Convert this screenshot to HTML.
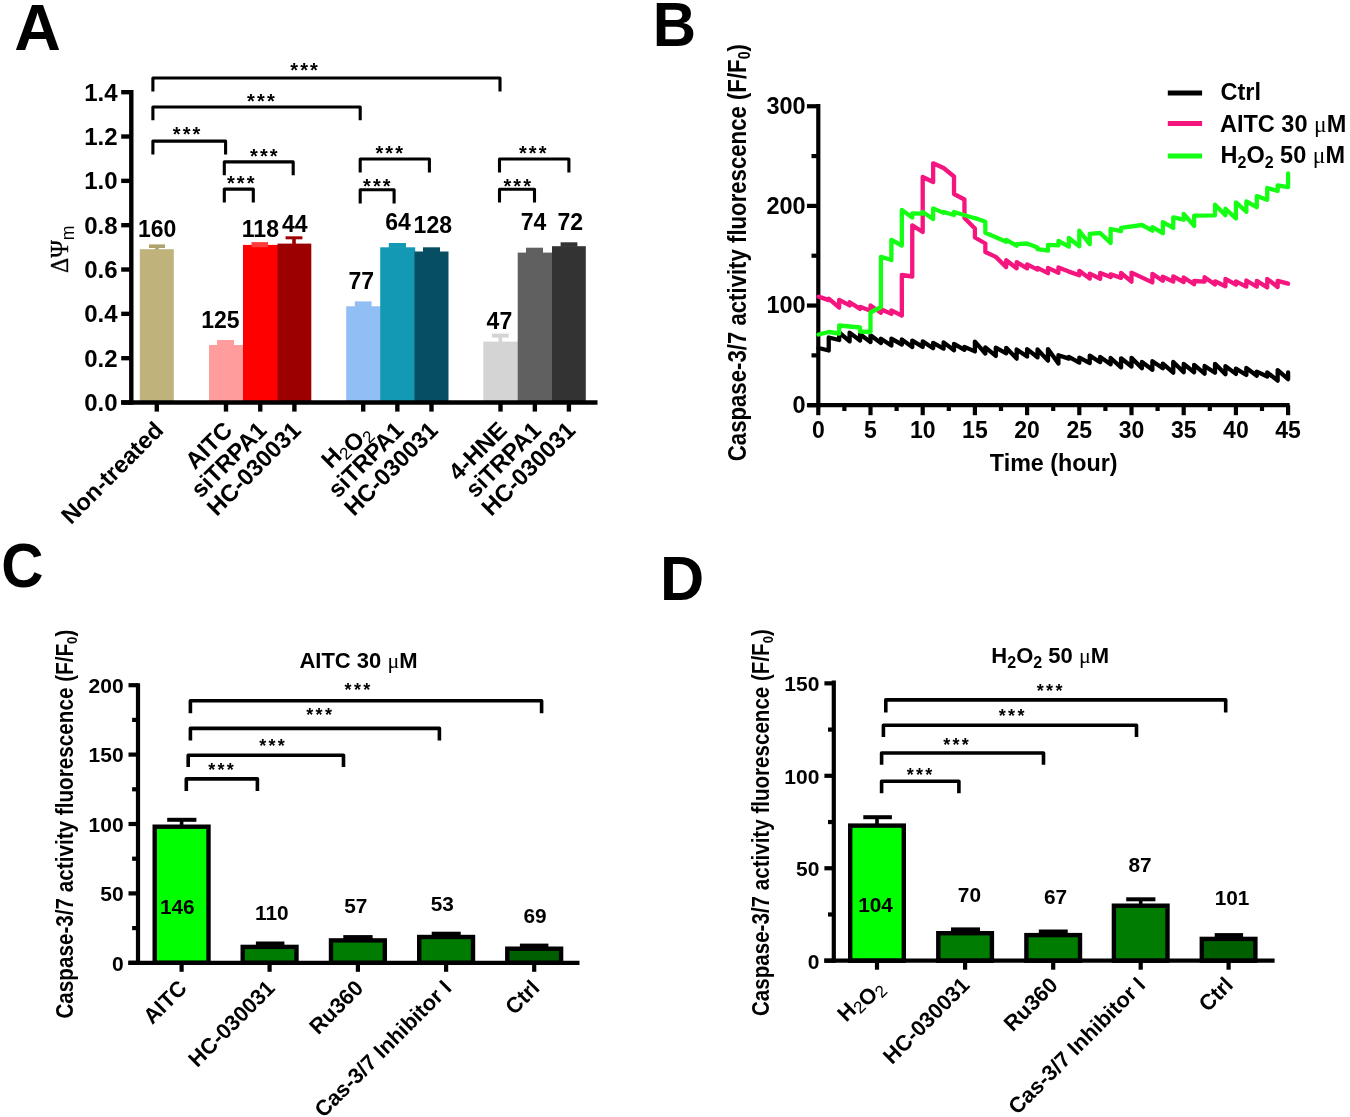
<!DOCTYPE html>
<html><head><meta charset="utf-8"><title>Figure</title>
<style>html,body{margin:0;padding:0;background:#fff;} svg{display:block;will-change:transform;}</style></head>
<body><svg width="1350" height="1117" viewBox="0 0 1350 1117">
<rect x="0" y="0" width="1350" height="1117" fill="#fff"/>
<text x="14.30" y="49.50" font-family='"Liberation Sans", sans-serif' font-size="64.5" font-weight="bold" text-anchor="start">A</text>
<text x="652.80" y="45.90" font-family='"Liberation Sans", sans-serif' font-size="62.5" font-weight="bold" text-anchor="start" transform="translate(652.80 45.90) scale(0.96 1) translate(-652.80 -45.90)">B</text>
<text x="1.20" y="586.60" font-family='"Liberation Sans", sans-serif' font-size="62.5" font-weight="bold" text-anchor="start" transform="translate(1.20 586.60) scale(0.935 1) translate(-1.20 -586.60)">C</text>
<text x="660.00" y="600.40" font-family='"Liberation Sans", sans-serif' font-size="62.5" font-weight="bold" text-anchor="start" transform="translate(660.00 600.40) scale(0.98 1) translate(-660.00 -600.40)">D</text>
<rect x="139.80" y="249.20" width="34.00" height="153.30" fill="#BFB27B"/>
<rect x="155.20" y="247.50" width="3.60" height="2.20" fill="#AEA36F"/>
<rect x="149.00" y="244.40" width="16.00" height="3.60" fill="#AEA36F"/>
<rect x="209.00" y="345.00" width="34.70" height="57.50" fill="#FF9C9C"/>
<rect x="217.00" y="340.00" width="17.00" height="5.60" fill="#FF9C9C"/>
<rect x="243.00" y="244.90" width="35.20" height="157.60" fill="#FF0000"/>
<rect x="251.50" y="242.10" width="16.50" height="5.10" fill="#FF3C3C"/>
<rect x="277.50" y="243.60" width="33.80" height="158.90" fill="#9C0000"/>
<rect x="292.20" y="238.80" width="3.60" height="5.30" fill="#9C0000"/>
<rect x="285.60" y="236.30" width="16.80" height="3.00" fill="#9C0000"/>
<rect x="346.20" y="306.30" width="34.70" height="96.20" fill="#92BEF6"/>
<rect x="354.80" y="301.40" width="16.80" height="5.50" fill="#92BEF6"/>
<rect x="380.20" y="247.30" width="35.00" height="155.20" fill="#1399B4"/>
<rect x="388.80" y="243.00" width="17.20" height="4.90" fill="#1399B4"/>
<rect x="414.50" y="251.50" width="34.00" height="151.00" fill="#064F63"/>
<rect x="423.00" y="247.30" width="17.00" height="4.80" fill="#064F63"/>
<rect x="483.30" y="341.60" width="35.10" height="60.90" fill="#D4D4D4"/>
<rect x="498.55" y="337.10" width="3.60" height="5.00" fill="#D4D4D4"/>
<rect x="492.00" y="333.60" width="16.70" height="4.00" fill="#D4D4D4"/>
<rect x="517.70" y="252.60" width="35.00" height="149.90" fill="#606060"/>
<rect x="526.00" y="247.70" width="17.00" height="5.50" fill="#606060"/>
<rect x="552.00" y="246.20" width="33.80" height="156.30" fill="#333333"/>
<rect x="560.60" y="242.30" width="16.80" height="4.50" fill="#333333"/>
<line x1="131.30" y1="90.00" x2="131.30" y2="404.70" stroke="#000" stroke-width="4.4" stroke-linecap="butt"/>
<line x1="121.20" y1="402.50" x2="597.50" y2="402.50" stroke="#000" stroke-width="4.4" stroke-linecap="butt"/>
<line x1="121.20" y1="402.50" x2="131.30" y2="402.50" stroke="#000" stroke-width="4.4" stroke-linecap="butt"/>
<text x="117.60" y="410.90" font-family='"Liberation Sans", sans-serif' font-size="24" font-weight="bold" text-anchor="end">0.0</text>
<line x1="121.20" y1="358.17" x2="131.30" y2="358.17" stroke="#000" stroke-width="4.4" stroke-linecap="butt"/>
<text x="117.60" y="366.57" font-family='"Liberation Sans", sans-serif' font-size="24" font-weight="bold" text-anchor="end">0.2</text>
<line x1="121.20" y1="313.84" x2="131.30" y2="313.84" stroke="#000" stroke-width="4.4" stroke-linecap="butt"/>
<text x="117.60" y="322.24" font-family='"Liberation Sans", sans-serif' font-size="24" font-weight="bold" text-anchor="end">0.4</text>
<line x1="121.20" y1="269.51" x2="131.30" y2="269.51" stroke="#000" stroke-width="4.4" stroke-linecap="butt"/>
<text x="117.60" y="277.91" font-family='"Liberation Sans", sans-serif' font-size="24" font-weight="bold" text-anchor="end">0.6</text>
<line x1="121.20" y1="225.18" x2="131.30" y2="225.18" stroke="#000" stroke-width="4.4" stroke-linecap="butt"/>
<text x="117.60" y="233.58" font-family='"Liberation Sans", sans-serif' font-size="24" font-weight="bold" text-anchor="end">0.8</text>
<line x1="121.20" y1="180.85" x2="131.30" y2="180.85" stroke="#000" stroke-width="4.4" stroke-linecap="butt"/>
<text x="117.60" y="189.25" font-family='"Liberation Sans", sans-serif' font-size="24" font-weight="bold" text-anchor="end">1.0</text>
<line x1="121.20" y1="136.52" x2="131.30" y2="136.52" stroke="#000" stroke-width="4.4" stroke-linecap="butt"/>
<text x="117.60" y="144.92" font-family='"Liberation Sans", sans-serif' font-size="24" font-weight="bold" text-anchor="end">1.2</text>
<line x1="121.20" y1="92.19" x2="131.30" y2="92.19" stroke="#000" stroke-width="4.4" stroke-linecap="butt"/>
<text x="117.60" y="100.59" font-family='"Liberation Sans", sans-serif' font-size="24" font-weight="bold" text-anchor="end">1.4</text>
<line x1="156.80" y1="402.50" x2="156.80" y2="411.60" stroke="#000" stroke-width="4.4" stroke-linecap="butt"/>
<line x1="226.00" y1="402.50" x2="226.00" y2="411.60" stroke="#000" stroke-width="4.4" stroke-linecap="butt"/>
<line x1="260.25" y1="402.50" x2="260.25" y2="411.60" stroke="#000" stroke-width="4.4" stroke-linecap="butt"/>
<line x1="294.40" y1="402.50" x2="294.40" y2="411.60" stroke="#000" stroke-width="4.4" stroke-linecap="butt"/>
<line x1="363.20" y1="402.50" x2="363.20" y2="411.60" stroke="#000" stroke-width="4.4" stroke-linecap="butt"/>
<line x1="397.35" y1="402.50" x2="397.35" y2="411.60" stroke="#000" stroke-width="4.4" stroke-linecap="butt"/>
<line x1="431.50" y1="402.50" x2="431.50" y2="411.60" stroke="#000" stroke-width="4.4" stroke-linecap="butt"/>
<line x1="500.50" y1="402.50" x2="500.50" y2="411.60" stroke="#000" stroke-width="4.4" stroke-linecap="butt"/>
<line x1="534.85" y1="402.50" x2="534.85" y2="411.60" stroke="#000" stroke-width="4.4" stroke-linecap="butt"/>
<line x1="568.90" y1="402.50" x2="568.90" y2="411.60" stroke="#000" stroke-width="4.4" stroke-linecap="butt"/>
<text x="157.20" y="237.00" font-family='"Liberation Sans", sans-serif' font-size="23" font-weight="bold" text-anchor="middle">160</text>
<text x="220.40" y="328.00" font-family='"Liberation Sans", sans-serif' font-size="23" font-weight="bold" text-anchor="middle">125</text>
<text x="260.40" y="237.00" font-family='"Liberation Sans", sans-serif' font-size="23" font-weight="bold" text-anchor="middle">118</text>
<text x="294.70" y="232.00" font-family='"Liberation Sans", sans-serif' font-size="23" font-weight="bold" text-anchor="middle">44</text>
<text x="361.30" y="288.50" font-family='"Liberation Sans", sans-serif' font-size="23" font-weight="bold" text-anchor="middle">77</text>
<text x="398.00" y="229.80" font-family='"Liberation Sans", sans-serif' font-size="23" font-weight="bold" text-anchor="middle">64</text>
<text x="432.80" y="232.60" font-family='"Liberation Sans", sans-serif' font-size="23" font-weight="bold" text-anchor="middle">128</text>
<text x="499.40" y="328.70" font-family='"Liberation Sans", sans-serif' font-size="23" font-weight="bold" text-anchor="middle">47</text>
<text x="533.50" y="229.80" font-family='"Liberation Sans", sans-serif' font-size="23" font-weight="bold" text-anchor="middle">74</text>
<text x="570.30" y="229.80" font-family='"Liberation Sans", sans-serif' font-size="23" font-weight="bold" text-anchor="middle">72</text>
<path d="M152.90 91.50 V78.00 H500.00 V91.50" stroke="#000" stroke-width="3.1" fill="none" stroke-linejoin="round" stroke-linecap="butt"/>
<text x="305.15" y="76.90" font-family='"Liberation Sans", sans-serif' font-size="20" font-weight="bold" text-anchor="middle" letter-spacing="2.1">***</text>
<path d="M152.90 120.30 V107.00 H360.20 V120.30" stroke="#000" stroke-width="3.1" fill="none" stroke-linejoin="round" stroke-linecap="butt"/>
<text x="261.95" y="108.00" font-family='"Liberation Sans", sans-serif' font-size="20" font-weight="bold" text-anchor="middle" letter-spacing="2.1">***</text>
<path d="M152.90 154.50 V141.10 H225.60 V154.50" stroke="#000" stroke-width="3.1" fill="none" stroke-linejoin="round" stroke-linecap="butt"/>
<text x="187.65" y="141.20" font-family='"Liberation Sans", sans-serif' font-size="20" font-weight="bold" text-anchor="middle" letter-spacing="2.1">***</text>
<path d="M224.30 175.30 V161.90 H293.20 V175.30" stroke="#000" stroke-width="3.1" fill="none" stroke-linejoin="round" stroke-linecap="butt"/>
<text x="264.85" y="162.50" font-family='"Liberation Sans", sans-serif' font-size="20" font-weight="bold" text-anchor="middle" letter-spacing="2.1">***</text>
<path d="M224.30 202.50 V189.10 H253.30 V202.50" stroke="#000" stroke-width="3.1" fill="none" stroke-linejoin="round" stroke-linecap="butt"/>
<text x="241.75" y="190.20" font-family='"Liberation Sans", sans-serif' font-size="20" font-weight="bold" text-anchor="middle" letter-spacing="2.1">***</text>
<path d="M360.20 172.50 V159.00 H429.40 V172.50" stroke="#000" stroke-width="3.1" fill="none" stroke-linejoin="round" stroke-linecap="butt"/>
<text x="390.25" y="159.90" font-family='"Liberation Sans", sans-serif' font-size="20" font-weight="bold" text-anchor="middle" letter-spacing="2.1">***</text>
<path d="M360.20 203.60 V189.80 H394.10 V203.60" stroke="#000" stroke-width="3.1" fill="none" stroke-linejoin="round" stroke-linecap="butt"/>
<text x="377.85" y="192.60" font-family='"Liberation Sans", sans-serif' font-size="20" font-weight="bold" text-anchor="middle" letter-spacing="2.1">***</text>
<path d="M499.50 172.50 V159.00 H568.90 V172.50" stroke="#000" stroke-width="3.1" fill="none" stroke-linejoin="round" stroke-linecap="butt"/>
<text x="533.75" y="159.90" font-family='"Liberation Sans", sans-serif' font-size="20" font-weight="bold" text-anchor="middle" letter-spacing="2.1">***</text>
<path d="M499.50 202.40 V189.20 H534.50 V202.40" stroke="#000" stroke-width="3.1" fill="none" stroke-linejoin="round" stroke-linecap="butt"/>
<text x="518.25" y="192.60" font-family='"Liberation Sans", sans-serif' font-size="20" font-weight="bold" text-anchor="middle" letter-spacing="2.1">***</text>
<text transform="translate(68.2 273) rotate(-90) scale(0.93 1)" font-family='"Liberation Serif", serif' font-size="25.5" stroke="#000" stroke-width="0.35">&#916;&#936;<tspan font-family='"Liberation Sans", sans-serif' font-size="19" stroke-width="0" dy="6">m</tspan></text>
<text transform="translate(164.60 431.60) rotate(-45)" font-family='"Liberation Sans", sans-serif' font-size="23.6" font-weight="bold" text-anchor="end">Non-treated</text>
<text transform="translate(233.80 431.60) rotate(-45)" font-family='"Liberation Sans", sans-serif' font-size="23.6" font-weight="bold" text-anchor="end">AITC</text>
<text transform="translate(268.05 431.60) rotate(-45)" font-family='"Liberation Sans", sans-serif' font-size="23.6" font-weight="bold" text-anchor="end">siTRPA1</text>
<text transform="translate(302.20 431.60) rotate(-45)" font-family='"Liberation Sans", sans-serif' font-size="23.6" font-weight="bold" text-anchor="end">HC-030031</text>
<text transform="translate(369.50 431.10) rotate(-45)" font-family='"Liberation Sans", sans-serif' font-size="23.6" font-weight="bold" text-anchor="end">H<tspan font-size="17" font-weight="normal" dy="4.5">2</tspan><tspan dy="-4.5"></tspan>O<tspan font-size="17" font-weight="normal" dy="4.5">2</tspan><tspan dy="-4.5"></tspan></text>
<text transform="translate(405.15 431.60) rotate(-45)" font-family='"Liberation Sans", sans-serif' font-size="23.6" font-weight="bold" text-anchor="end">siTRPA1</text>
<text transform="translate(439.30 431.60) rotate(-45)" font-family='"Liberation Sans", sans-serif' font-size="23.6" font-weight="bold" text-anchor="end">HC-030031</text>
<text transform="translate(508.30 431.60) rotate(-45)" font-family='"Liberation Sans", sans-serif' font-size="23.6" font-weight="bold" text-anchor="end">4-HNE</text>
<text transform="translate(542.65 431.60) rotate(-45)" font-family='"Liberation Sans", sans-serif' font-size="23.6" font-weight="bold" text-anchor="end">siTRPA1</text>
<text transform="translate(576.70 431.60) rotate(-45)" font-family='"Liberation Sans", sans-serif' font-size="23.6" font-weight="bold" text-anchor="end">HC-030031</text>
<line x1="818.30" y1="104.00" x2="818.30" y2="407.30" stroke="#000" stroke-width="4.2" stroke-linecap="butt"/>
<line x1="807.80" y1="405.20" x2="1289.60" y2="405.20" stroke="#000" stroke-width="4.2" stroke-linecap="butt"/>
<line x1="806.90" y1="405.20" x2="818.30" y2="405.20" stroke="#000" stroke-width="4.2" stroke-linecap="butt"/>
<text x="805.60" y="412.80" font-family='"Liberation Sans", sans-serif' font-size="23.5" font-weight="bold" text-anchor="end">0</text>
<line x1="806.90" y1="305.55" x2="818.30" y2="305.55" stroke="#000" stroke-width="4.2" stroke-linecap="butt"/>
<text x="805.60" y="313.15" font-family='"Liberation Sans", sans-serif' font-size="23.5" font-weight="bold" text-anchor="end">100</text>
<line x1="806.90" y1="205.90" x2="818.30" y2="205.90" stroke="#000" stroke-width="4.2" stroke-linecap="butt"/>
<text x="805.60" y="213.50" font-family='"Liberation Sans", sans-serif' font-size="23.5" font-weight="bold" text-anchor="end">200</text>
<line x1="806.90" y1="106.25" x2="818.30" y2="106.25" stroke="#000" stroke-width="4.2" stroke-linecap="butt"/>
<text x="805.60" y="113.85" font-family='"Liberation Sans", sans-serif' font-size="23.5" font-weight="bold" text-anchor="end">300</text>
<line x1="811.50" y1="355.38" x2="818.30" y2="355.38" stroke="#000" stroke-width="4.2" stroke-linecap="butt"/>
<line x1="811.50" y1="255.72" x2="818.30" y2="255.72" stroke="#000" stroke-width="4.2" stroke-linecap="butt"/>
<line x1="811.50" y1="156.07" x2="818.30" y2="156.07" stroke="#000" stroke-width="4.2" stroke-linecap="butt"/>
<line x1="818.30" y1="405.20" x2="818.30" y2="415.20" stroke="#000" stroke-width="4.2" stroke-linecap="butt"/>
<text x="818.30" y="437.50" font-family='"Liberation Sans", sans-serif' font-size="23" font-weight="bold" text-anchor="middle">0</text>
<line x1="870.50" y1="405.20" x2="870.50" y2="415.20" stroke="#000" stroke-width="4.2" stroke-linecap="butt"/>
<text x="870.50" y="437.50" font-family='"Liberation Sans", sans-serif' font-size="23" font-weight="bold" text-anchor="middle">5</text>
<line x1="922.70" y1="405.20" x2="922.70" y2="415.20" stroke="#000" stroke-width="4.2" stroke-linecap="butt"/>
<text x="922.70" y="437.50" font-family='"Liberation Sans", sans-serif' font-size="23" font-weight="bold" text-anchor="middle">10</text>
<line x1="974.90" y1="405.20" x2="974.90" y2="415.20" stroke="#000" stroke-width="4.2" stroke-linecap="butt"/>
<text x="974.90" y="437.50" font-family='"Liberation Sans", sans-serif' font-size="23" font-weight="bold" text-anchor="middle">15</text>
<line x1="1027.10" y1="405.20" x2="1027.10" y2="415.20" stroke="#000" stroke-width="4.2" stroke-linecap="butt"/>
<text x="1027.10" y="437.50" font-family='"Liberation Sans", sans-serif' font-size="23" font-weight="bold" text-anchor="middle">20</text>
<line x1="1079.30" y1="405.20" x2="1079.30" y2="415.20" stroke="#000" stroke-width="4.2" stroke-linecap="butt"/>
<text x="1079.30" y="437.50" font-family='"Liberation Sans", sans-serif' font-size="23" font-weight="bold" text-anchor="middle">25</text>
<line x1="1131.50" y1="405.20" x2="1131.50" y2="415.20" stroke="#000" stroke-width="4.2" stroke-linecap="butt"/>
<text x="1131.50" y="437.50" font-family='"Liberation Sans", sans-serif' font-size="23" font-weight="bold" text-anchor="middle">30</text>
<line x1="1183.70" y1="405.20" x2="1183.70" y2="415.20" stroke="#000" stroke-width="4.2" stroke-linecap="butt"/>
<text x="1183.70" y="437.50" font-family='"Liberation Sans", sans-serif' font-size="23" font-weight="bold" text-anchor="middle">35</text>
<line x1="1235.90" y1="405.20" x2="1235.90" y2="415.20" stroke="#000" stroke-width="4.2" stroke-linecap="butt"/>
<text x="1235.90" y="437.50" font-family='"Liberation Sans", sans-serif' font-size="23" font-weight="bold" text-anchor="middle">40</text>
<line x1="1288.10" y1="405.20" x2="1288.10" y2="415.20" stroke="#000" stroke-width="4.2" stroke-linecap="butt"/>
<text x="1288.10" y="437.50" font-family='"Liberation Sans", sans-serif' font-size="23" font-weight="bold" text-anchor="middle">45</text>
<line x1="844.40" y1="405.20" x2="844.40" y2="411.00" stroke="#000" stroke-width="4.2" stroke-linecap="butt"/>
<line x1="896.60" y1="405.20" x2="896.60" y2="411.00" stroke="#000" stroke-width="4.2" stroke-linecap="butt"/>
<line x1="948.80" y1="405.20" x2="948.80" y2="411.00" stroke="#000" stroke-width="4.2" stroke-linecap="butt"/>
<line x1="1001.00" y1="405.20" x2="1001.00" y2="411.00" stroke="#000" stroke-width="4.2" stroke-linecap="butt"/>
<line x1="1053.20" y1="405.20" x2="1053.20" y2="411.00" stroke="#000" stroke-width="4.2" stroke-linecap="butt"/>
<line x1="1105.40" y1="405.20" x2="1105.40" y2="411.00" stroke="#000" stroke-width="4.2" stroke-linecap="butt"/>
<line x1="1157.60" y1="405.20" x2="1157.60" y2="411.00" stroke="#000" stroke-width="4.2" stroke-linecap="butt"/>
<line x1="1209.80" y1="405.20" x2="1209.80" y2="411.00" stroke="#000" stroke-width="4.2" stroke-linecap="butt"/>
<line x1="1262.00" y1="405.20" x2="1262.00" y2="411.00" stroke="#000" stroke-width="4.2" stroke-linecap="butt"/>
<text x="1053.70" y="470.90" font-family='"Liberation Sans", sans-serif' font-size="23.3" font-weight="bold" text-anchor="middle">Time (hour)</text>
<text transform="translate(745.9 461.2) rotate(-90) scale(0.8875 1)" font-family='"Liberation Sans", sans-serif' font-size="25" font-weight="bold">Caspase-3/7 activity fluorescence (F/F<tspan font-size="16" dy="4">0</tspan><tspan dy="-4">)</tspan></text>
<path d="M818.50 348.00 L828.74 350.50 L828.74 337.50 L839.18 340.00 L839.18 332.50 L849.62 341.30 L849.62 332.60 L860.06 340.50 L860.06 334.20 L870.50 341.90 L870.50 335.30 L880.94 343.00 L880.94 338.70 L891.38 345.50 L891.38 338.70 L901.82 344.50 L901.82 339.50 L912.26 346.90 L912.26 340.60 L922.70 346.90 L922.70 341.40 L933.14 348.20 L933.14 342.80 L943.58 348.60 L943.58 342.40 L954.02 350.20 L954.02 343.80 L964.46 349.80 L964.46 346.90 L974.90 351.40 L974.90 341.60 L985.34 353.50 L985.34 347.30 L995.78 355.90 L995.78 347.70 L1006.22 353.30 L1006.22 347.80 L1016.66 358.60 L1016.66 349.50 L1027.10 356.50 L1027.10 349.10 L1037.54 357.30 L1037.54 349.50 L1047.98 360.60 L1047.98 349.10 L1058.42 363.50 L1058.42 355.20 L1068.86 358.60 L1068.86 356.90 L1079.30 362.60 L1079.30 357.70 L1089.74 363.00 L1089.74 355.60 L1100.18 362.20 L1100.18 356.90 L1110.62 364.20 L1110.62 358.00 L1121.06 367.30 L1121.06 358.30 L1131.50 366.50 L1131.50 357.90 L1141.94 368.20 L1141.94 362.00 L1152.38 369.80 L1152.38 361.20 L1162.82 368.20 L1162.82 363.60 L1173.26 372.60 L1173.26 362.00 L1183.70 372.20 L1183.70 364.00 L1194.14 372.20 L1194.14 364.80 L1204.58 373.70 L1204.58 366.00 L1215.02 372.70 L1215.02 363.80 L1225.46 374.30 L1225.46 366.10 L1235.90 373.90 L1235.90 368.70 L1246.34 375.00 L1246.34 368.00 L1256.78 375.80 L1256.78 371.60 L1267.22 376.50 L1267.22 372.40 L1277.66 380.60 L1277.66 370.10 L1288.10 379.10 L1288.10 372.40" stroke="#000" stroke-width="4.3" fill="none" stroke-linejoin="round" stroke-linecap="round"/>
<path d="M818.50 296.60 L828.74 300.10 L828.74 298.70 L839.18 307.50 L839.18 299.80 L849.62 305.40 L849.62 302.20 L860.06 308.90 L860.06 306.80 L870.50 310.70 L870.50 305.40 L880.94 312.80 L880.94 309.30 L891.38 313.90 L891.38 310.30 L901.82 315.60 L901.82 275.00 L912.26 276.50 L912.26 225.30 L922.70 232.00 L922.70 177.00 L933.14 182.00 L933.14 163.30 L943.58 168.00 L954.02 176.50 L954.02 194.00 L964.46 199.50 L964.46 218.00 L974.90 228.50 L974.90 237.50 L985.34 243.50 L985.34 252.00 L995.78 256.90 L1006.22 267.10 L1006.22 260.20 L1016.66 268.30 L1016.66 262.20 L1027.10 268.30 L1027.10 264.30 L1037.54 269.60 L1037.54 267.90 L1047.98 273.20 L1047.98 267.90 L1058.42 272.80 L1058.42 267.50 L1068.86 271.60 L1079.30 275.30 L1079.30 270.80 L1089.74 278.60 L1089.74 273.60 L1100.18 278.70 L1100.18 273.00 L1110.62 277.10 L1110.62 274.30 L1121.06 277.90 L1121.06 273.00 L1131.50 281.60 L1131.50 272.60 L1152.38 282.40 L1152.38 273.90 L1162.82 280.80 L1162.82 276.70 L1173.26 281.60 L1173.26 276.30 L1183.70 282.00 L1183.70 277.50 L1194.14 284.30 L1194.14 281.00 L1204.58 281.70 L1204.58 277.20 L1215.02 284.60 L1215.02 281.30 L1225.46 286.20 L1225.46 278.90 L1235.90 284.60 L1235.90 281.30 L1246.34 286.60 L1246.34 280.50 L1256.78 286.60 L1256.78 280.90 L1267.22 287.40 L1267.22 278.90 L1277.66 287.00 L1277.66 280.90 L1288.10 283.70" stroke="#F5157F" stroke-width="4.3" fill="none" stroke-linejoin="round" stroke-linecap="round"/>
<path d="M818.50 334.50 L828.74 332.00 L839.18 333.50 L839.18 325.50 L860.06 327.50 L860.06 331.50 L870.50 332.00 L870.50 312.50 L880.94 307.00 L880.94 256.80 L891.38 260.00 L891.38 239.80 L901.82 245.50 L901.82 210.00 L912.26 217.50 L912.26 213.50 L922.70 213.70 L922.70 212.00 L933.14 219.00 L933.14 208.40 L943.58 212.90 L943.58 212.00 L954.02 215.00 L954.02 212.00 L974.90 218.30 L974.90 217.90 L985.34 221.70 L985.34 232.80 L1006.22 241.70 L1006.22 240.00 L1016.66 245.70 L1016.66 244.20 L1027.10 243.50 L1037.54 247.50 L1037.54 249.20 L1047.98 250.60 L1047.98 244.90 L1058.42 245.30 L1058.42 240.90 L1068.86 246.60 L1068.86 238.00 L1079.30 246.20 L1079.30 230.70 L1089.74 244.10 L1089.74 233.90 L1100.18 233.00 L1110.62 242.90 L1110.62 229.00 L1121.06 231.10 L1121.06 227.80 L1141.94 225.00 L1152.38 230.70 L1152.38 227.10 L1162.82 233.20 L1162.82 222.20 L1173.26 227.90 L1173.26 217.30 L1183.70 219.70 L1183.70 214.00 L1194.14 225.90 L1194.14 215.70 L1215.02 215.30 L1215.02 204.70 L1225.46 215.30 L1225.46 208.70 L1235.90 218.50 L1235.90 202.30 L1246.34 211.70 L1246.34 201.30 L1256.78 207.20 L1256.78 196.10 L1267.22 199.80 L1267.22 188.00 L1277.66 190.90 L1277.66 185.40 L1288.10 187.20 L1288.10 173.50" stroke="#14FF14" stroke-width="4.3" fill="none" stroke-linejoin="round" stroke-linecap="round"/>
<line x1="1167.80" y1="93.00" x2="1202.10" y2="93.00" stroke="#000" stroke-width="5" stroke-linecap="butt"/>
<line x1="1167.80" y1="123.50" x2="1202.10" y2="123.50" stroke="#F5157F" stroke-width="5" stroke-linecap="butt"/>
<line x1="1167.80" y1="156.00" x2="1202.10" y2="156.00" stroke="#14FF14" stroke-width="5" stroke-linecap="butt"/>
<text x="1220.50" y="100.40" font-family='"Liberation Sans", sans-serif' font-size="23.5" font-weight="bold" text-anchor="start">Ctrl</text>
<text x="1220.00" y="131.50" font-family='"Liberation Sans", sans-serif' font-size="23.5" font-weight="bold" text-anchor="start">AITC 30 <tspan font-family='"Liberation Serif", serif' font-weight="normal">&#956;</tspan>M</text>
<text x="1220.50" y="162.60" font-family='"Liberation Sans", sans-serif' font-size="23.5" font-weight="bold" text-anchor="start">H<tspan font-size="16" dy="5">2</tspan><tspan dy="-5">O</tspan><tspan font-size="16" dy="5">2</tspan><tspan dy="-5"> 50 </tspan><tspan font-family='"Liberation Serif", serif' font-weight="normal">&#956;</tspan>M</text>
<rect x="179.80" y="819.80" width="3.60" height="5.70" fill="#000"/>
<rect x="167.20" y="817.80" width="29.20" height="4.00" fill="#000"/>
<rect x="154.70" y="826.70" width="53.80" height="136.10" fill="#00FF00" stroke="#000" stroke-width="4.4"/>
<rect x="267.80" y="943.50" width="3.60" height="2.20" fill="#000"/>
<rect x="255.90" y="941.50" width="28.50" height="4.00" fill="#000"/>
<rect x="242.70" y="946.90" width="53.80" height="15.90" fill="#007D00" stroke="#000" stroke-width="4.4"/>
<rect x="356.10" y="937.10" width="3.60" height="2.10" fill="#000"/>
<rect x="343.30" y="935.10" width="29.30" height="4.00" fill="#000"/>
<rect x="331.00" y="940.40" width="53.80" height="22.40" fill="#007D00" stroke="#000" stroke-width="4.4"/>
<rect x="444.30" y="933.70" width="3.60" height="2.10" fill="#000"/>
<rect x="431.70" y="931.70" width="29.00" height="4.00" fill="#000"/>
<rect x="419.20" y="937.00" width="53.80" height="25.80" fill="#007D00" stroke="#000" stroke-width="4.4"/>
<rect x="532.40" y="945.60" width="3.60" height="1.90" fill="#000"/>
<rect x="519.90" y="943.60" width="28.50" height="4.00" fill="#000"/>
<rect x="507.30" y="948.70" width="53.80" height="14.10" fill="#006000" stroke="#000" stroke-width="4.4"/>
<line x1="138.00" y1="683.30" x2="138.00" y2="964.90" stroke="#000" stroke-width="4.2" stroke-linecap="butt"/>
<line x1="128.30" y1="962.80" x2="579.50" y2="962.80" stroke="#000" stroke-width="4.2" stroke-linecap="butt"/>
<line x1="128.50" y1="962.80" x2="138.00" y2="962.80" stroke="#000" stroke-width="4.2" stroke-linecap="butt"/>
<text x="123.60" y="970.60" font-family='"Liberation Sans", sans-serif' font-size="21" font-weight="bold" text-anchor="end">0</text>
<line x1="128.50" y1="893.40" x2="138.00" y2="893.40" stroke="#000" stroke-width="4.2" stroke-linecap="butt"/>
<text x="123.60" y="901.20" font-family='"Liberation Sans", sans-serif' font-size="21" font-weight="bold" text-anchor="end">50</text>
<line x1="128.50" y1="824.00" x2="138.00" y2="824.00" stroke="#000" stroke-width="4.2" stroke-linecap="butt"/>
<text x="123.60" y="831.80" font-family='"Liberation Sans", sans-serif' font-size="21" font-weight="bold" text-anchor="end">100</text>
<line x1="128.50" y1="754.60" x2="138.00" y2="754.60" stroke="#000" stroke-width="4.2" stroke-linecap="butt"/>
<text x="123.60" y="762.40" font-family='"Liberation Sans", sans-serif' font-size="21" font-weight="bold" text-anchor="end">150</text>
<line x1="128.50" y1="685.20" x2="138.00" y2="685.20" stroke="#000" stroke-width="4.2" stroke-linecap="butt"/>
<text x="123.60" y="693.00" font-family='"Liberation Sans", sans-serif' font-size="21" font-weight="bold" text-anchor="end">200</text>
<line x1="132.10" y1="928.10" x2="138.00" y2="928.10" stroke="#000" stroke-width="4.2" stroke-linecap="butt"/>
<line x1="132.10" y1="858.70" x2="138.00" y2="858.70" stroke="#000" stroke-width="4.2" stroke-linecap="butt"/>
<line x1="132.10" y1="789.30" x2="138.00" y2="789.30" stroke="#000" stroke-width="4.2" stroke-linecap="butt"/>
<line x1="132.10" y1="719.90" x2="138.00" y2="719.90" stroke="#000" stroke-width="4.2" stroke-linecap="butt"/>
<line x1="181.60" y1="962.80" x2="181.60" y2="971.80" stroke="#000" stroke-width="4.2" stroke-linecap="butt"/>
<line x1="269.60" y1="962.80" x2="269.60" y2="971.80" stroke="#000" stroke-width="4.2" stroke-linecap="butt"/>
<line x1="357.90" y1="962.80" x2="357.90" y2="971.80" stroke="#000" stroke-width="4.2" stroke-linecap="butt"/>
<line x1="446.10" y1="962.80" x2="446.10" y2="971.80" stroke="#000" stroke-width="4.2" stroke-linecap="butt"/>
<line x1="534.20" y1="962.80" x2="534.20" y2="971.80" stroke="#000" stroke-width="4.2" stroke-linecap="butt"/>
<text x="177.30" y="913.70" font-family='"Liberation Sans", sans-serif' font-size="20.8" font-weight="bold" text-anchor="middle">146</text>
<text x="271.75" y="920.00" font-family='"Liberation Sans", sans-serif' font-size="20.8" font-weight="bold" text-anchor="middle">110</text>
<text x="355.75" y="912.80" font-family='"Liberation Sans", sans-serif' font-size="20.8" font-weight="bold" text-anchor="middle">57</text>
<text x="442.35" y="910.70" font-family='"Liberation Sans", sans-serif' font-size="20.8" font-weight="bold" text-anchor="middle">53</text>
<text x="535.05" y="922.60" font-family='"Liberation Sans", sans-serif' font-size="20.8" font-weight="bold" text-anchor="middle">69</text>
<path d="M190.40 713.30 V700.70 H541.60 V713.30" stroke="#000" stroke-width="3.6" fill="none" stroke-linejoin="round" stroke-linecap="butt"/>
<text x="358.55" y="696.24" font-family='"Liberation Sans", sans-serif' font-size="18" font-weight="bold" text-anchor="middle" letter-spacing="2.3">***</text>
<path d="M190.40 740.40 V728.40 H439.40 V740.40" stroke="#000" stroke-width="3.6" fill="none" stroke-linejoin="round" stroke-linecap="butt"/>
<text x="320.25" y="720.94" font-family='"Liberation Sans", sans-serif' font-size="18" font-weight="bold" text-anchor="middle" letter-spacing="2.3">***</text>
<path d="M188.20 767.10 V755.20 H343.50 V767.10" stroke="#000" stroke-width="3.6" fill="none" stroke-linejoin="round" stroke-linecap="butt"/>
<text x="273.15" y="751.54" font-family='"Liberation Sans", sans-serif' font-size="18" font-weight="bold" text-anchor="middle" letter-spacing="2.3">***</text>
<path d="M186.30 790.90 V778.90 H257.40 V790.90" stroke="#000" stroke-width="3.6" fill="none" stroke-linejoin="round" stroke-linecap="butt"/>
<text x="222.15" y="776.44" font-family='"Liberation Sans", sans-serif' font-size="18" font-weight="bold" text-anchor="middle" letter-spacing="2.3">***</text>
<text x="358.50" y="668.20" font-family='"Liberation Sans", sans-serif' font-size="22" font-weight="bold" text-anchor="middle">AITC 30 <tspan font-family='"Liberation Serif", serif' font-weight="normal">&#956;</tspan>M</text>
<text transform="translate(72.6 1018.6) rotate(-90) scale(0.873 1)" font-family='"Liberation Sans", sans-serif' font-size="23.7" font-weight="bold">Caspase-3/7 activity fluorescence (F/F<tspan font-size="15.2" dy="4">0</tspan><tspan dy="-4">)</tspan></text>
<text transform="translate(188.20 989.30) rotate(-45)" font-family='"Liberation Sans", sans-serif' font-size="21.8" font-weight="bold" text-anchor="end">AITC</text>
<text transform="translate(276.20 989.30) rotate(-45)" font-family='"Liberation Sans", sans-serif' font-size="21.8" font-weight="bold" text-anchor="end">HC-030031</text>
<text transform="translate(364.50 989.30) rotate(-45)" font-family='"Liberation Sans", sans-serif' font-size="21.8" font-weight="bold" text-anchor="end">Ru360</text>
<text transform="translate(452.70 989.30) rotate(-45)" font-family='"Liberation Sans", sans-serif' font-size="21.8" font-weight="bold" text-anchor="end">Cas-3/7 Inhibitor I</text>
<text transform="translate(540.80 989.30) rotate(-45)" font-family='"Liberation Sans", sans-serif' font-size="21.8" font-weight="bold" text-anchor="end">Ctrl</text>
<rect x="875.20" y="817.20" width="3.60" height="7.20" fill="#000"/>
<rect x="863.30" y="815.20" width="28.60" height="4.00" fill="#000"/>
<rect x="850.20" y="825.60" width="53.60" height="135.10" fill="#00FF00" stroke="#000" stroke-width="4.4"/>
<rect x="963.30" y="929.40" width="3.60" height="2.60" fill="#000"/>
<rect x="951.00" y="927.40" width="29.00" height="4.00" fill="#000"/>
<rect x="938.30" y="933.20" width="53.60" height="27.50" fill="#007D00" stroke="#000" stroke-width="4.4"/>
<rect x="1051.40" y="931.50" width="3.60" height="2.40" fill="#000"/>
<rect x="1038.80" y="929.50" width="28.90" height="4.00" fill="#000"/>
<rect x="1026.40" y="935.10" width="53.60" height="25.60" fill="#007D00" stroke="#000" stroke-width="4.4"/>
<rect x="1138.90" y="899.30" width="3.60" height="5.20" fill="#000"/>
<rect x="1126.20" y="897.30" width="29.20" height="4.00" fill="#000"/>
<rect x="1113.90" y="905.70" width="53.60" height="55.00" fill="#007D00" stroke="#000" stroke-width="4.4"/>
<rect x="1226.80" y="935.10" width="3.60" height="2.60" fill="#000"/>
<rect x="1214.70" y="933.10" width="28.40" height="4.00" fill="#000"/>
<rect x="1201.80" y="938.90" width="53.60" height="21.80" fill="#006000" stroke="#000" stroke-width="4.4"/>
<line x1="833.80" y1="680.40" x2="833.80" y2="962.80" stroke="#000" stroke-width="4.2" stroke-linecap="butt"/>
<line x1="824.30" y1="960.70" x2="1274.60" y2="960.70" stroke="#000" stroke-width="4.2" stroke-linecap="butt"/>
<line x1="824.40" y1="960.70" x2="833.80" y2="960.70" stroke="#000" stroke-width="4.2" stroke-linecap="butt"/>
<text x="819.40" y="968.50" font-family='"Liberation Sans", sans-serif' font-size="21" font-weight="bold" text-anchor="end">0</text>
<line x1="824.40" y1="868.25" x2="833.80" y2="868.25" stroke="#000" stroke-width="4.2" stroke-linecap="butt"/>
<text x="819.40" y="876.05" font-family='"Liberation Sans", sans-serif' font-size="21" font-weight="bold" text-anchor="end">50</text>
<line x1="824.40" y1="775.80" x2="833.80" y2="775.80" stroke="#000" stroke-width="4.2" stroke-linecap="butt"/>
<text x="819.40" y="783.60" font-family='"Liberation Sans", sans-serif' font-size="21" font-weight="bold" text-anchor="end">100</text>
<line x1="824.40" y1="683.35" x2="833.80" y2="683.35" stroke="#000" stroke-width="4.2" stroke-linecap="butt"/>
<text x="819.40" y="691.15" font-family='"Liberation Sans", sans-serif' font-size="21" font-weight="bold" text-anchor="end">150</text>
<line x1="828.00" y1="914.48" x2="833.80" y2="914.48" stroke="#000" stroke-width="4.2" stroke-linecap="butt"/>
<line x1="828.00" y1="822.03" x2="833.80" y2="822.03" stroke="#000" stroke-width="4.2" stroke-linecap="butt"/>
<line x1="828.00" y1="729.58" x2="833.80" y2="729.58" stroke="#000" stroke-width="4.2" stroke-linecap="butt"/>
<line x1="877.00" y1="960.70" x2="877.00" y2="969.70" stroke="#000" stroke-width="4.2" stroke-linecap="butt"/>
<line x1="965.10" y1="960.70" x2="965.10" y2="969.70" stroke="#000" stroke-width="4.2" stroke-linecap="butt"/>
<line x1="1053.20" y1="960.70" x2="1053.20" y2="969.70" stroke="#000" stroke-width="4.2" stroke-linecap="butt"/>
<line x1="1140.70" y1="960.70" x2="1140.70" y2="969.70" stroke="#000" stroke-width="4.2" stroke-linecap="butt"/>
<line x1="1228.60" y1="960.70" x2="1228.60" y2="969.70" stroke="#000" stroke-width="4.2" stroke-linecap="butt"/>
<text x="875.50" y="911.70" font-family='"Liberation Sans", sans-serif' font-size="20.8" font-weight="bold" text-anchor="middle">104</text>
<text x="969.40" y="901.80" font-family='"Liberation Sans", sans-serif' font-size="20.8" font-weight="bold" text-anchor="middle">70</text>
<text x="1055.50" y="903.50" font-family='"Liberation Sans", sans-serif' font-size="20.8" font-weight="bold" text-anchor="middle">67</text>
<text x="1140.00" y="872.00" font-family='"Liberation Sans", sans-serif' font-size="20.8" font-weight="bold" text-anchor="middle">87</text>
<text x="1232.10" y="904.50" font-family='"Liberation Sans", sans-serif' font-size="20.8" font-weight="bold" text-anchor="middle">101</text>
<path d="M885.80 712.60 V699.90 H1225.70 V712.60" stroke="#000" stroke-width="3.6" fill="none" stroke-linejoin="round" stroke-linecap="butt"/>
<text x="1050.75" y="697.04" font-family='"Liberation Sans", sans-serif' font-size="18" font-weight="bold" text-anchor="middle" letter-spacing="2.3">***</text>
<path d="M883.40 737.10 V725.30 H1136.50 V737.10" stroke="#000" stroke-width="3.6" fill="none" stroke-linejoin="round" stroke-linecap="butt"/>
<text x="1012.75" y="721.84" font-family='"Liberation Sans", sans-serif' font-size="18" font-weight="bold" text-anchor="middle" letter-spacing="2.3">***</text>
<path d="M881.60 764.80 V753.00 H1043.50 V764.80" stroke="#000" stroke-width="3.6" fill="none" stroke-linejoin="round" stroke-linecap="butt"/>
<text x="957.15" y="750.84" font-family='"Liberation Sans", sans-serif' font-size="18" font-weight="bold" text-anchor="middle" letter-spacing="2.3">***</text>
<path d="M881.60 793.20 V781.20 H958.90 V793.20" stroke="#000" stroke-width="3.6" fill="none" stroke-linejoin="round" stroke-linecap="butt"/>
<text x="920.65" y="781.44" font-family='"Liberation Sans", sans-serif' font-size="18" font-weight="bold" text-anchor="middle" letter-spacing="2.3">***</text>
<text x="1050.20" y="663.20" font-family='"Liberation Sans", sans-serif' font-size="22" font-weight="bold" text-anchor="middle">H<tspan font-size="16" dy="5">2</tspan><tspan dy="-5">O</tspan><tspan font-size="16" dy="5">2</tspan><tspan dy="-5"> 50 </tspan><tspan font-family='"Liberation Serif", serif' font-weight="normal">&#956;</tspan>M</text>
<text transform="translate(768.6 1016.0) rotate(-90) scale(0.8834 1)" font-family='"Liberation Sans", sans-serif' font-size="23.3" font-weight="bold">Caspase-3/7 activity fluorescence (F/F<tspan font-size="14.9" dy="4">0</tspan><tspan dy="-4">)</tspan></text>
<text transform="translate(882.80 986.30) rotate(-45)" font-family='"Liberation Sans", sans-serif' font-size="21.8" font-weight="bold" text-anchor="end">H<tspan font-size="17" font-weight="normal" dy="4">2</tspan><tspan dy="-4"></tspan>O<tspan font-size="17" font-weight="normal" dy="4">2</tspan><tspan dy="-4"></tspan></text>
<text transform="translate(970.90 986.30) rotate(-45)" font-family='"Liberation Sans", sans-serif' font-size="21.8" font-weight="bold" text-anchor="end">HC-030031</text>
<text transform="translate(1059.00 986.30) rotate(-45)" font-family='"Liberation Sans", sans-serif' font-size="21.8" font-weight="bold" text-anchor="end">Ru360</text>
<text transform="translate(1146.50 986.30) rotate(-45)" font-family='"Liberation Sans", sans-serif' font-size="21.8" font-weight="bold" text-anchor="end">Cas-3/7 Inhibitor I</text>
<text transform="translate(1234.40 986.30) rotate(-45)" font-family='"Liberation Sans", sans-serif' font-size="21.8" font-weight="bold" text-anchor="end">Ctrl</text>
</svg></body></html>
